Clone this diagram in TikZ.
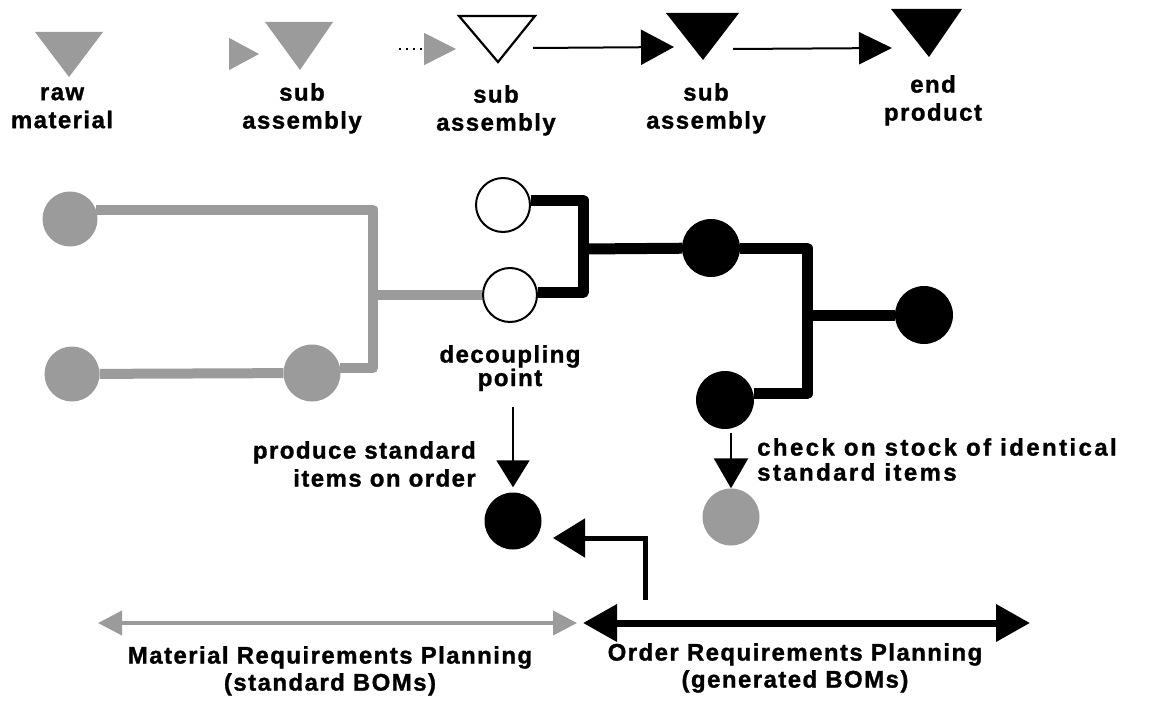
\documentclass[tikz,border=0pt]{standalone}
\usepackage{fontspec}
\usetikzlibrary{arrows.meta}
\newfontfamily\lblfont{Liberation Sans}[LetterSpace=6,FakeBold=1.2]
\newfontfamily\lblwide{Liberation Sans}[LetterSpace=10,FakeBold=1.2]
\definecolor{halftone}{RGB}{155,155,155}
\pgfdeclarelayer{bg}
\pgfsetlayers{bg,main}
\tikzset{
  lbl/.style={font={\lblfont\bfseries\fontsize{24}{28}\selectfont}, inner sep=0pt, align=center},
  lbldec/.style={font={\lblfont\bfseries\fontsize{24}{22}\selectfont}, inner sep=0pt, align=center},
  lblbot/.style={font={\lblfont\bfseries\fontsize{24}{27}\selectfont}, inner sep=0pt, align=center},
  lblw/.style={font={\lblwide\bfseries\fontsize{24}{25}\selectfont}, inner sep=0pt},
  gcirc/.style={circle, fill=halftone, draw=none, minimum size=55pt, inner sep=0pt},
  wcirc/.style={circle, fill=white, draw=black, line width=2pt, minimum size=54pt, inner sep=0pt},
  bcirc/.style={circle, fill=black, draw=none, minimum size=58pt, inner sep=0pt},
  gpipe/.style={draw=halftone, line width=10pt, line join=round},
  bpipe/.style={draw=black, line width=11pt, line join=round},
  flowline/.style={draw=black, line width=2pt},
}
\begin{document}
\begin{tikzpicture}[x=1pt,y=-1pt]
\begin{pgfonlayer}{bg}
\fill[white] (0,0) rectangle (1152,717);
\end{pgfonlayer}
\useasboundingbox (0,0) rectangle (1152,717);

% ---- top row: stock points (triangles)
\fill[halftone] (35,32) -- (103,32) -- (69,77) -- cycle;
\fill[halftone] (265,22) -- (333,22) -- (300,70) -- cycle;
\draw[line width=2.2pt, fill=white, line join=miter] (459,16) -- (535,16) -- (498,62) -- cycle;
\fill[black] (666,13) -- (739,13) -- (703,60) -- cycle;
\fill[black] (891,9) -- (962,9) -- (929,57) -- cycle;

\coordinate (rawout) at (229,54);
\coordinate (sub1in) at (259,54);
\coordinate (sub1out) at (399,49);
\coordinate (sub2in) at (456,49);
\coordinate (sub2out) at (533,48);
\coordinate (sub3in) at (674,47);
\coordinate (sub3out) at (733,49);
\coordinate (endin) at (892,48);

\draw[halftone, line width=1pt, -{Triangle[length=30pt,width=32pt]}] (rawout) -- (sub1in);
\draw[dash pattern=on 2pt off 5pt, line width=1.5pt, -{Triangle[length=32pt,width=32pt,color=halftone]}] (sub1out) -- (sub2in);
\draw[flowline, -{Triangle[length=33pt,width=35pt]}] (sub2out) -- (sub3in);
\draw[flowline, -{Triangle[length=33pt,width=32pt]}] (sub3out) -- (endin);

\node[lbl, anchor=north] (lraw) at (62,87) {raw\\material};
\node[lbl, anchor=north] (lsub1) at (302,83) {sub\\assembly};
\node[lbl, anchor=north] (lsub2) at (496,85) {sub\\assembly};
\node[lbl, anchor=north] (lsub3) at (706,83) {sub\\assembly};
\node[lbl, anchor=north] (lend) at (933,75) {end\\product};

% ---- product structure
\node[gcirc] (G1) at (70,219) {};
\node[gcirc] (G2) at (72,374) {};
\node[gcirc, minimum size=57pt] (G3) at (312,373) {};
\node[wcirc] (W1) at (503,205) {};
\node[wcirc] (W2) at (510,295) {};
\node[bcirc] (B1) at (711,248) {};
\node[bcirc] (B2) at (725,400) {};
\node[bcirc] (B3) at (924,315) {};
\coordinate (jg) at (373,295);
\coordinate (jb) at (583,249);
\coordinate (jc) at (807,315);

\begin{pgfonlayer}{bg}
\draw[gpipe] (G1.20) -| (jg) |- (G3.10);
\draw[gpipe] (jg) -- (W2);
\draw[gpipe] (G2) -- (G3);
\draw[bpipe] (W1.10) -| (jb) |- (W2.5);
\draw[bpipe] (jb) -- (B1);
\draw[bpipe] (B1) -| (jc) |- (B2.12);
\draw[bpipe] (jc) -- (B3);
\end{pgfonlayer}

\node[lbldec, anchor=north] (ldec) at (510,345) {decoupling\\point};

% ---- lower part
\node[bcirc, minimum size=57pt] (P) at (513,521) {};
\node[gcirc, minimum size=57pt] (S) at (731,517) {};
\coordinate (dp) at (513,407);
\coordinate (ck) at (731,433);
\coordinate (ordup) at (645,600);
\coordinate (pin) at (553,538);

\draw[line width=2pt, -{Triangle[length=27pt,width=33pt]}, shorten >=5pt] (dp) -- (P);
\draw[line width=2.5pt, -{Triangle[length=30pt,width=34pt]}] (ck) -- (S);
\draw[line width=5pt, -{Triangle[length=32pt,width=38pt]}] (ordup) |- (pin);

\node[lbl, anchor=north east, align=right] (lprod) at (476,441) {produce standard\\items on order};
\node[lblw, anchor=north west, align=left] (lchk) at (757,438) {check on stock of identical\\standard items};

% ---- planning ranges
\coordinate (mrpL) at (98,623);
\coordinate (mrpR) at (577,623);
\coordinate (orpL) at (583,623);
\coordinate (orpR) at (1030,623);
\draw[halftone, line width=4pt, {Triangle[length=24pt,width=24pt]}-{Triangle[length=24pt,width=24pt]}] (mrpL) -- (mrpR);
\draw[line width=7pt, {Triangle[length=34pt,width=36pt]}-{Triangle[length=34pt,width=36pt]}] (orpL) -- (orpR);

\node[lblbot, anchor=north] (lmrp) at (330,646) {Material Requirements Planning\\(standard BOMs)};
\node[lblbot, anchor=north] (lorp) at (795,643) {Order Requirements Planning\\(generated BOMs)};
\end{tikzpicture}
\end{document}
